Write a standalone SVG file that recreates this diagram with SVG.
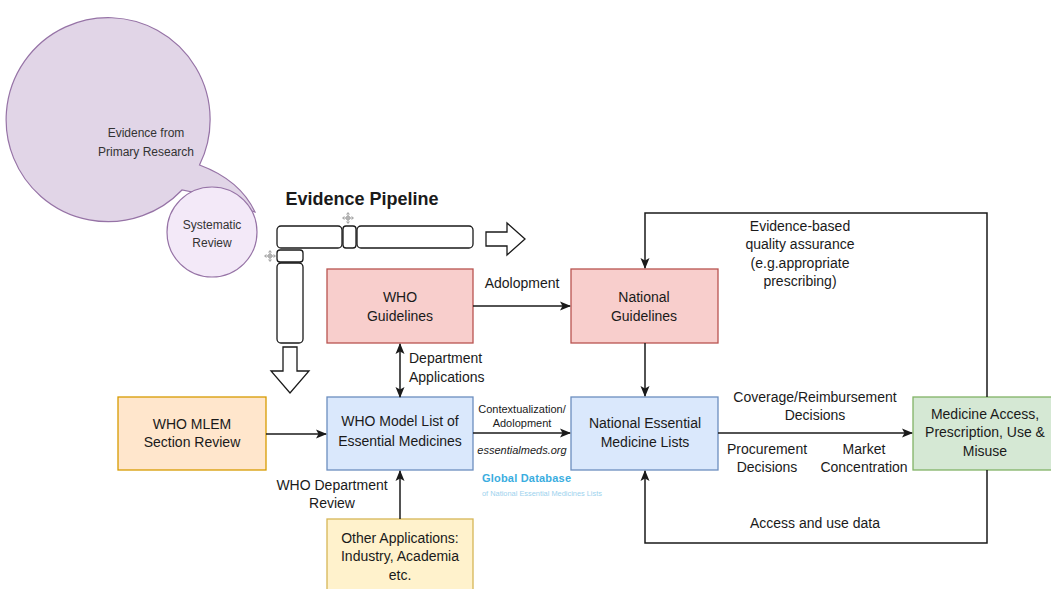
<svg xmlns="http://www.w3.org/2000/svg" width="1051" height="589" viewBox="0 0 1051 589">
<style>
text{font-family:"Liberation Sans",Arial,sans-serif;fill:#1a1a1a;text-anchor:middle}
.b{font-size:14px}
.l{font-size:14px}
.s{font-size:11px}
.c{font-size:12px;fill:#333}
.edge{fill:none;stroke:#1a1a1a;stroke-width:1.5}
.pipe{fill:#fff;stroke:#1a1a1a;stroke-width:1.3}
</style>
<defs>
<marker id="ah" markerWidth="11" markerHeight="11" refX="10" refY="5.5" orient="auto" markerUnits="userSpaceOnUse">
<path d="M0,1 L11,5.5 L0,10 L2.5,5.5 Z" fill="#1a1a1a"/>
</marker>
<marker id="as" markerWidth="11" markerHeight="11" refX="1" refY="5.5" orient="auto" markerUnits="userSpaceOnUse">
<path d="M11,1 L0,5.5 L11,10 L8.5,5.5 Z" fill="#1a1a1a"/>
</marker>
<g id="mv">
<path d="M0,-5 V5 M-5,0 H5" stroke="#888" stroke-width="0.8"/>
<circle r="2" fill="none" stroke="#888" stroke-width="0.7"/>
<path d="M-1.5,-3.5 L0,-5.5 L1.5,-3.5 M-1.5,3.5 L0,5.5 L1.5,3.5 M-3.5,-1.5 L-5.5,0 L-3.5,1.5 M3.5,-1.5 L5.5,0 L3.5,1.5" fill="none" stroke="#888" stroke-width="0.7"/>
</g>
</defs>

<g id="evidence-primary">
<path d="M199.5,165 Q240,180 255,212 L197,193 L182,190 A102,102 0 1 1 199.5,165 Z" fill="#E1D5E7" stroke="#9673A6" stroke-width="1.2"/>
<text class="c" x="146" y="137">Evidence from</text>
<text class="c" x="146" y="156">Primary Research</text>
</g>
<g id="systematic-review">
<circle cx="212" cy="232" r="45" fill="#F3E9F8" stroke="#9673A6" stroke-width="1.2"/>
<text class="c" x="212" y="229">Systematic</text>
<text class="c" x="212" y="247">Review</text>
</g>

<g id="pipeline">
<text x="362" y="205" style="font-size:18px;font-weight:bold">Evidence Pipeline</text>
<rect class="pipe" x="277" y="226" width="65" height="22" rx="4"/>
<rect class="pipe" x="343" y="226" width="13" height="22" rx="3"/>
<rect class="pipe" x="357" y="226" width="116" height="22" rx="4"/>
<rect class="pipe" x="277" y="250" width="26" height="12" rx="3"/>
<rect class="pipe" x="277" y="263" width="26" height="80" rx="4"/>
<use href="#mv" x="348" y="218"/>
<use href="#mv" x="270" y="256"/>
<path class="pipe" d="M486,232 H507 V223 L525,239 L507,255 V246 H486 Z"/>
<path class="pipe" d="M283,347 H297 V371 H309 L290,393 L271,371 H283 Z"/>
</g>

<g id="who-guidelines">
<rect x="327" y="269" width="146" height="74" fill="#F8CECC" stroke="#B85450" stroke-width="1.3"/>
<text class="b" x="400" y="302">WHO</text>
<text class="b" x="400" y="321">Guidelines</text>
</g>
<g id="national-guidelines">
<rect x="571" y="269" width="147" height="74" fill="#F8CECC" stroke="#B85450" stroke-width="1.3"/>
<text class="b" x="644" y="302">National</text>
<text class="b" x="644" y="321">Guidelines</text>
</g>
<g id="who-mlem">
<rect x="118" y="397" width="148" height="73" fill="#FFE6CC" stroke="#D79B00" stroke-width="1.3"/>
<text class="b" x="192" y="429">WHO MLEM</text>
<text class="b" x="192" y="447">Section Review</text>
</g>
<g id="who-model-list">
<rect x="327" y="397" width="146" height="73" fill="#DAE8FC" stroke="#6C8EBF" stroke-width="1.3"/>
<text class="b" x="400" y="426">WHO Model List of</text>
<text class="b" x="400" y="446">Essential Medicines</text>
</g>
<g id="national-eml">
<rect x="571" y="397" width="147" height="73" fill="#DAE8FC" stroke="#6C8EBF" stroke-width="1.3"/>
<text class="b" x="645" y="428">National Essential</text>
<text class="b" x="645" y="447">Medicine Lists</text>
</g>
<g id="medicine-access">
<rect x="913" y="397" width="150" height="73" fill="#D5E8D4" stroke="#82B366" stroke-width="1.3"/>
<text class="b" x="985" y="419">Medicine Access,</text>
<text class="b" x="985" y="437">Prescription, Use &amp;</text>
<text class="b" x="985" y="456">Misuse</text>
</g>
<g id="other-applications">
<rect x="327" y="519" width="146" height="80" fill="#FFF2CC" stroke="#D6B656" stroke-width="1.3"/>
<text class="b" x="400" y="543">Other Applications:</text>
<text class="b" x="400" y="561">Industry, Academia</text>
<text class="b" x="400" y="580">etc.</text>
</g>

<g id="connectors">
<path class="edge" d="M473,306 H570" marker-end="url(#ah)"/>
<path class="edge" d="M400,344 V397" marker-start="url(#as)" marker-end="url(#ah)"/>
<path class="edge" d="M266,434 H326" marker-end="url(#ah)"/>
<path class="edge" d="M400,519 V471" marker-end="url(#ah)"/>
<path class="edge" d="M473,433 H570" marker-end="url(#ah)"/>
<path class="edge" d="M645,343 V396" marker-end="url(#ah)"/>
<path class="edge" d="M718,433 H912" marker-end="url(#ah)"/>
<path class="edge" d="M987,470 V543 H645 V471" marker-end="url(#ah)"/>
<path class="edge" d="M987,397 V213 H645 V268" marker-end="url(#ah)"/>
</g>

<g id="labels">
<text class="l" x="522" y="288">Adolopment</text>
<text class="l" x="409" y="363" style="text-anchor:start">Department</text>
<text class="l" x="409" y="382" style="text-anchor:start">Applications</text>
<text class="l" x="332" y="490">WHO Department</text>
<text class="l" x="332" y="508">Review</text>
<text class="s" x="522" y="413">Contextualization/</text>
<text class="s" x="522" y="427">Adolopment</text>
<text class="s" x="522" y="454" style="font-style:italic">essentialmeds.org</text>
<text x="482" y="482" style="text-anchor:start;font-size:11px;font-weight:bold;fill:#3AADE0;letter-spacing:0.2px">Global Database</text>
<text x="482" y="496" style="text-anchor:start;font-size:7.4px;fill:#9CD2EE">of National Essential Medicines Lists</text>
<text class="l" x="815" y="402">Coverage/Reimbursement</text>
<text class="l" x="815" y="420">Decisions</text>
<text class="l" x="767" y="454">Procurement</text>
<text class="l" x="767" y="472">Decisions</text>
<text class="l" x="864" y="454">Market</text>
<text class="l" x="864" y="472">Concentration</text>
<text class="l" x="815" y="528">Access and use data</text>
<text class="l" x="800" y="231">Evidence-based</text>
<text class="l" x="800" y="249">quality assurance</text>
<text class="l" x="800" y="268">(e.g.appropriate</text>
<text class="l" x="800" y="286">prescribing)</text>
</g>
</svg>
